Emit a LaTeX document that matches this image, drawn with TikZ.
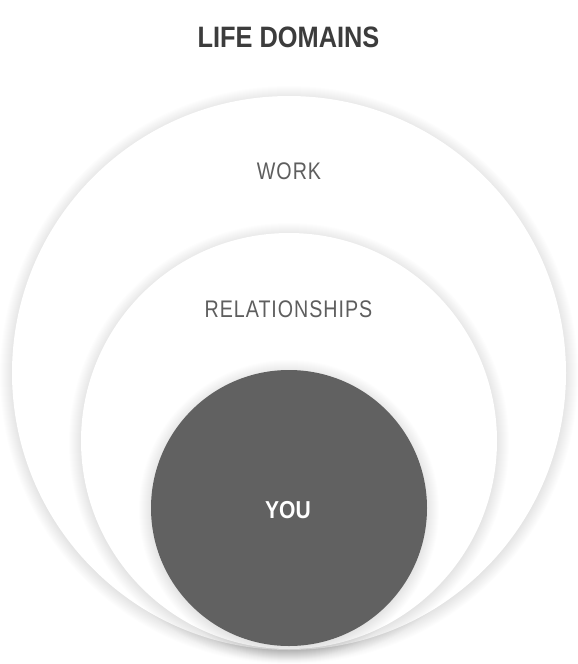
\documentclass[tikz,border=0pt]{standalone}
\usepackage{fontspec}
\setmainfont{Liberation Sans}
\newfontfamily\labfont[FakeStretch=0.82,LetterSpace=4]{Liberation Sans}
\newfontfamily\boldfont[FakeStretch=0.86]{Liberation Sans Bold}
\definecolor{titlegray}{HTML}{3C3C3C}
\definecolor{labgray}{HTML}{5E5E5E}
\definecolor{coregray}{HTML}{616161}
\tikzset{
  ring/.style={circle, fill=white, inner sep=0pt},
  core/.style={circle, fill=coregray, inner sep=0pt},
  lab/.style={anchor=base, text=labgray, font=\labfont\fontsize{24}{24}\selectfont, inner sep=0pt},
  bold lab/.style={anchor=base, font=\boldfont\fontsize{24.5}{24.5}\selectfont, inner sep=0pt},
}
\newcommand{\softshadow}[2]{% center, radius
  \foreach \k in {1,...,16} {
    \fill[black, opacity=0.0075] ([yshift=-2pt]#1) circle[radius=#2pt+\k*1pt-4pt];
  }
}
\begin{document}
\begin{tikzpicture}[x=1pt, y=-1pt]
\useasboundingbox[fill=white] (0,0) rectangle (578,664);
\coordinate (co) at (289,373);
\coordinate (cm) at (289,441);
\coordinate (ci) at (289,508);
\softshadow{co}{277}
\node[ring, minimum size=554pt] (outer) at (co) {};
\softshadow{cm}{208}
\node[ring, minimum size=416pt] (middle) at (cm) {};
\softshadow{ci}{138}
\node[core, minimum size=276pt] (inner) at (ci) {};
\node[bold lab, text=titlegray, font=\boldfont\fontsize{29.5}{29.5}\selectfont] (title) at (288.5,47) {LIFE DOMAINS};
\node[lab] (work) at (289,179.5) {WORK};
\node[lab] (rel) at (288.5,317.5) {RELATIONSHIPS};
\node[bold lab, text=white] (you) at (288,518.5) {YOU};
\end{tikzpicture}
\end{document}
